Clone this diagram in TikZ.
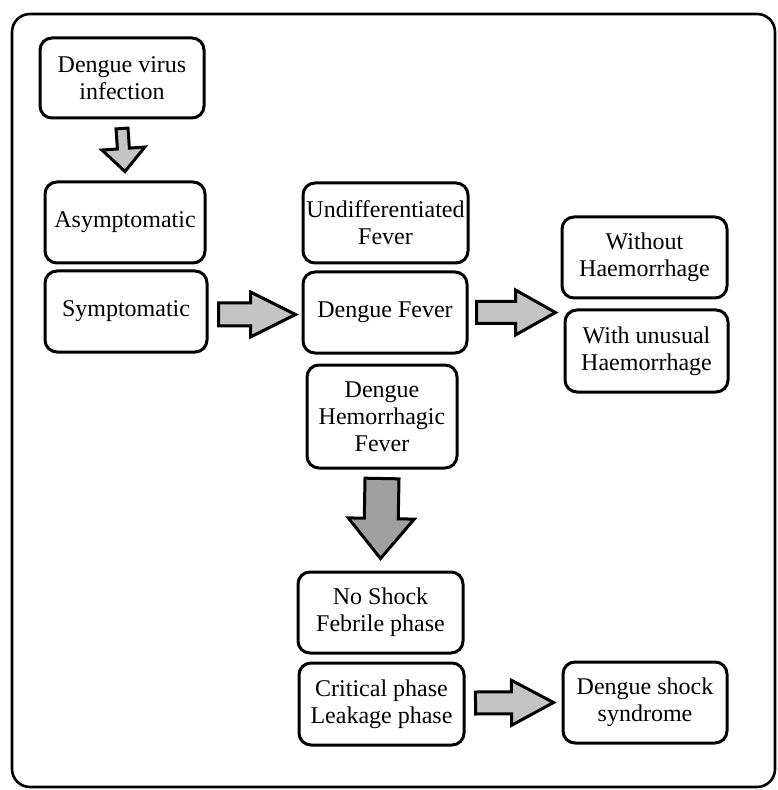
\documentclass[tikz,border=0pt]{standalone}
\usepackage{fontspec}
\setmainfont{Liberation Serif}
\usetikzlibrary{calc}
\definecolor{arrowgray}{HTML}{C4C4C4}
\definecolor{arrowdark}{HTML}{A0A0A0}
\tikzset{
  stagebox/.style={draw,line width=1.5pt,rounded corners=6pt,align=center,inner sep=0pt,
    font=\fontsize{12}{13.5}\selectfont},
  blockarr/.style={draw,line width=1.5pt,fill=arrowgray,line join=miter}
}
% block arrow: [style] from, to, half shaft, half head, head length
\newcommand{\blockarrow}[6][]{%
  \path (#2) coordinate (ba-s) (#3) coordinate (ba-e);
  \path ($(ba-e)!#6!(ba-s)$) coordinate (ba-h);
  \draw[blockarr,#1] ($(ba-s)!#4!90:(ba-e)$) -- ($(ba-h)!#4!90:(ba-e)$) -- ($(ba-h)!#5!90:(ba-e)$)
    -- (ba-e) -- ($(ba-h)!#5!-90:(ba-e)$) -- ($(ba-h)!#4!-90:(ba-e)$) -- ($(ba-s)!#4!-90:(ba-e)$) -- cycle;}

\begin{document}
\begin{tikzpicture}[x=0.5pt,y=-0.5pt]
\useasboundingbox (0,0) rectangle (777,790);
\draw[line width=1.3pt,rounded corners=9pt] (12,14) rectangle (775,787);
\node[stagebox,minimum width=82pt,minimum height=40pt] (infection) at (122,78) {Dengue virus\\infection};
\node[stagebox,minimum width=80pt,minimum height=40.5pt] (asym) at (125,222.5) {Asymptomatic};
\node[stagebox,minimum width=81pt,minimum height=40.5pt] (sympt) at (126,311.5) {Symptomatic};
\node[stagebox,minimum width=82.5pt,minimum height=40pt] (undiff) at (385.5,223) {Undifferentiated\\Fever};
\node[stagebox,minimum width=82pt,minimum height=40.5pt] (df) at (385,312.5) {Dengue Fever};
\node[stagebox,minimum width=75pt,minimum height=51.5pt] (dhf) at (382,416.5) {Dengue\\Hemorrhagic\\Fever};
\node[stagebox,minimum width=82.5pt,minimum height=40.5pt] (without) at (644.5,257.5) {Without\\Haemorrhage};
\node[stagebox,minimum width=81.5pt,minimum height=41pt] (unusual) at (646.5,351) {With unusual\\Haemorrhage};
\node[stagebox,minimum width=82.5pt,minimum height=40.5pt] (noshock) at (380.5,612.5) {No Shock\\Febrile phase};
\node[stagebox,minimum width=82.5pt,minimum height=41pt] (critical) at (381.5,704) {Critical phase\\Leakage phase};
\node[stagebox,minimum width=82pt,minimum height=40.5pt] (dss) at (645,702.5) {Dengue shock\\syndrome};
% arrows between stages
\blockarrow{$(infection.south)+(0,9)$}{$(asym.north)+(0,-9)$}{3pt}{10.75pt}{11.5pt}
\blockarrow{$(sympt.east)+(10,3)$}{$(df.west)+(-6,2)$}{5.75pt}{11.25pt}{22.5pt}
\blockarrow{$(df.east)+(8,0)$}{$(df.east -| unusual.west)+(-8,0)$}{5.5pt}{11.25pt}{20pt}
\blockarrow[fill=arrowdark]{$(dhf.south)+(0,9)$}{$(noshock.north)+(0,-12)$}{8.5pt}{16.5pt}{20pt}
\blockarrow{$(critical.east)+(10,-1)$}{$(dss.west)+(-8,0)$}{5.5pt}{11.25pt}{21pt}
\end{tikzpicture}
\end{document}
